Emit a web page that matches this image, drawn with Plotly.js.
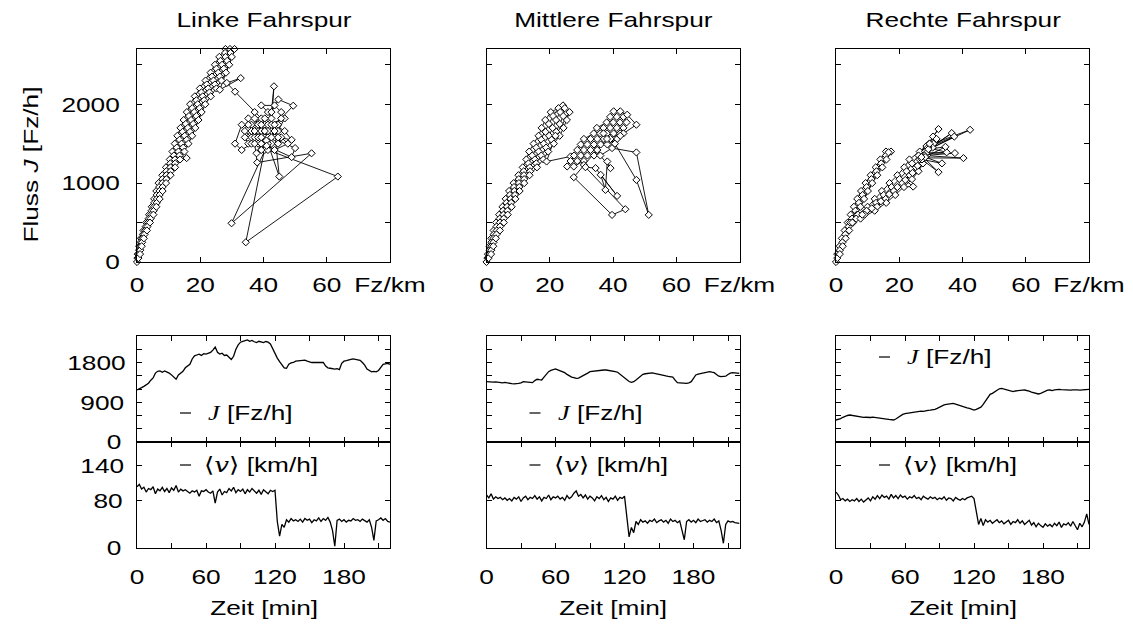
<!DOCTYPE html>
<html>
<head>
<meta charset="utf-8">
<script src="https://cdn.plot.ly/plotly-3.0.1.min.js"></script>
<style>
  html, body { margin: 0; padding: 0; background: #fff; }
  #chart { width: 1133px; height: 626px; }
</style>
</head>
<body>
<div id="chart"></div>
<script>
// Spur-Titel
const lanes = ['Linke Fahrspur', 'Mittlere Fahrspur', 'Rechte Fahrspur'];

// Fundamentaldiagramm: [Dichte Fz/km, Fluss Fz/h] in zeitlicher Reihenfolge
const fdLinks = [
  [0,0],[0.24,100],[0.7,200],[1.25,300],[2.06,400],[2.91,500],[3.82,600],[4.68,700],[5.44,800],[6.11,900],
  [6.83,1000],[8,1100],[9.16,1200],[10.38,1300],[11.21,1400],[11.94,1500],[12.76,1600],[13.76,1700],[14.76,1800],[15.76,1900],
  [16.81,2000],[18.28,2100],[19.89,2200],[21.68,2300],[23.27,2400],[24.65,2500],[26.02,2600],[27.96,2700],
  [27.85,2650],[26.39,2550],[25.13,2450],[23.71,2350],[22.07,2250],[20.37,2150],[18.77,2050],[17.47,1950],[16.43,1850],[15.43,1750],
  [14.43,1650],[13.48,1550],[12.59,1450],[11.67,1350],[10.54,1250],[9.26,1150],[8.03,1050],[7.01,950],[6.24,850],[5.45,750],
  [4.6,650],[3.69,550],[2.77,450],[1.9,350],[1.18,250],[0.66,150],[0.14,50],
  [0.6,100],[1.1,200],[1.7,300],[2.6,400],[3.5,500],[4.5,600],[5.4,700],[6.3,800],[7.1,900],[8,1000],
  [9.3,1100],[10.6,1200],[12,1300],[13.1,1400],[14.1,1500],[15.1,1600],[16.1,1700],[17.1,1800],[18.1,1900],[19.2,2000],
  [20.8,2100],[22.5,2200],[24.2,2300],[25.7,2400],[26.9,2500],[28,2600],[29.4,2700],
  [29.56,2650],[28.51,2550],[27.47,2450],[26.19,2350],[24.63,2250],[22.93,2150],[21.23,2050],[19.83,1950],[18.77,1850],[17.77,1750],
  [16.77,1650],[15.73,1550],[14.61,1450],[13.43,1350],[15.7,1317],[12.07,1250],[10.64,1150],[9.27,1050],[8.09,950],[7.16,850],
  [6.25,750],[5.3,650],[4.32,550],[3.33,450],[2.4,350],[1.62,250],[1.04,150],[0.46,50],
  [0.96,100],[1.5,200],[2.15,300],[3.14,400],[4.09,500],[5.18,600],[6.12,700],[7.16,800],[8.09,900],[9.17,1000],
  [10.6,1100],[12.04,1200],[13.62,1300],[14.99,1400],[16.26,1500],[17.44,1600],[18.44,1700],[19.44,1800],[20.44,1900],[21.59,2000],
  [23.32,2100],[25.11,2200],[26.72,2300],[28.13,2400],[29.15,2500],[29.98,2600],[30.84,2700],
  [26.2,2184],[32.8,2331],[28.4,2270],[31,2159],
  [37.2,1900],[39.3,1820],[36.2,1740],[38.3,1660],[40.4,1740],[42.5,1820],[41.4,1900],[39.3,1985],[43.5,1985],[45.6,1900],
  [44.6,1740],[42.5,1660],[40.4,1580],[38.3,1500],[36.2,1580],[34.1,1660],[35.2,1820],[37.2,1820],[39.3,1660],[41.4,1580],
  [43.5,1580],[44.6,1660],[46.7,1820],[41.4,1740],[38.3,1740],[36.2,1660],[34.1,1580],[35.2,1500],[37.2,1580],[39.3,1740],
  [40.4,1660],[42.5,1500],[44.6,1500],[45.6,1580],[47.7,1500],[43.5,1420],[40.4,1500],[37.2,1660],[35.2,1740],[33.1,1740],
  [31,1500],[33.1,1420],[36.2,1500],[38.3,1580],[40.4,1820],[42.5,1740],[43.3,2227],[42.5,1900],[44.7,2060],[49.4,1981],
  [45.6,1820],[43.5,1740],[46.7,1660],[48.9,1549],[44.6,1580],[41.4,1660],[39.3,1580],[37.2,1500],[38,1261],[55.2,1378],
  [29.9,491],[40.4,1420],[41.4,1500],[45,1083],[43.5,1660],[37.8,1378],[39.3,1500],[41.4,1420],[63.5,1083],[34.4,250],
  [40.9,1540],[42.5,1580],[50,1444],[48.9,1329],[41,1473],[39.3,1420],[40.4,1660]
];

const fdMitte = [
  [0,0],[0.46,100],[0.97,200],[1.53,300],[2.26,400],[3.04,500],[4,600],[5.06,700],[6.07,800],[7.14,900],
  [8.59,1000],[10.1,1100],[11.45,1200],[12.6,1300],[13.49,1400],[14.9,1500],[16.47,1600],[17.44,1700],[18.58,1800],[20.33,1900],
  [22.76,1950],[21.05,1850],[19.73,1750],[18.65,1650],[17.32,1550],[15.75,1450],[14.47,1350],[13.26,1250],[11.78,1150],[10.2,1050],
  [8.7,950],[7.4,850],[6.31,750],[5.23,650],[4.16,550],[3.2,450],[2.32,350],[1.57,250],[0.98,150],[0.29,50],
  [0.95,100],[1.55,200],[2.25,300],[3.25,400],[4.25,500],[5.35,600],[6.5,700],[7.6,800],[8.8,900],[10.25,1000],
  [11.85,1100],[13.7,1200],[15.3,1300],[16.5,1400],[18.1,1500],[19.8,1600],[20.9,1700],[22,1800],[23.3,1900],[24.2,1985],
  [24.74,1950],[24.25,1850],[23.17,1750],[22.05,1650],[20.58,1550],[18.85,1450],[17.33,1350],[15.74,1250],[13.78,1150],[11.9,1050],
  [10.36,950],[9,850],[7.79,750],[6.63,650],[5.44,550],[4.3,450],[3.18,350],[2.23,250],[1.52,150],[0.67,50],
  [1.45,100],[2.14,200],[2.97,300],[4.24,400],[5.47,500],[6.7,600],[7.94,700],[9.13,800],[10.47,900],[11.92,1000],
  [13.6,1100],[15.95,1200],[18,1300],[19.52,1400],[21.3,1500],[23.13,1600],[24.37,1700],[25.42,1800],[26.27,1900],
  [21.8,1600],[19,1274],
  [26.6,1338],[25.5,1211],[27.6,1211],[30.8,1280],[28.7,1280],[26.6,1280],[27.7,1350],[29.8,1350],[31.9,1350],[34,1350],
  [35,1420],[32.9,1420],[30.8,1420],[28.7,1420],[29.8,1490],[31.9,1490],[34,1490],[36.1,1490],[38.2,1490],
  [41.3,1560],[39.2,1560],[37.1,1560],[35,1560],[32.9,1560],[30.8,1560],[33.9,1630],[36,1630],[38.1,1630],[40.2,1630],
  [42.3,1630],[43.3,1700],[41.2,1700],[39.1,1700],[37,1700],[34.9,1700],[38,1770],[40.1,1770],[42.2,1770],[44.3,1770],
  [43.3,1840],[41.2,1840],[39.1,1840],[40.2,1910],[42.3,1910],[44.5,1867],[47.4,1740],[43.3,1630],[38.1,1560],[35,1420],
  [30.8,1230],[27.6,1075],[39.7,597],[43.9,669],[31.3,1202],[34.5,1190],[41.3,838],[36.1,1105],[37.6,914],[38.2,1274],
  [39.2,1190],[36,1350],[39.7,1444],[47.4,1389],[51.3,597],[47.4,1041],[40.6,1500],[42.3,1600],[37,1630]
];

const fdRechts = [
  [0,0],[0.4,100],[1.17,200],[1.85,300],[2.73,400],[3.71,500],[4.64,600],[5.66,700],[6.72,800],[7.92,900],
  [9.36,1000],[10.96,1100],[12.56,1200],[14.04,1300],[15.8,1400],
  [15.8,1350],[14.3,1250],[12.8,1150],[11.2,1050],[9.7,950],[8.4,850],[7.25,750],[6.15,650],[5.08,550],[4,450],
  [2.95,350],[2.05,250],[1.23,150],[0.4,50],
  [1.2,100],[2.13,200],[3.05,300],[4.17,400],[5.39,500],[6.56,600],[7.74,700],[8.88,800],[10.08,900],[11.44,1000],
  [13.04,1100],[14.64,1200],[15.96,1300],[17.4,1400],[16.6,1390],
  [4.49,500],[6.97,600],[9.99,700],[12.25,800],[14.5,900],[16.93,1000],[19.41,1100],[21.58,1200],[23.22,1300],[26.47,1400],
  [29.48,1500],
  [28.8,1450],[26.11,1350],[24.05,1250],[22.31,1150],[20.07,1050],[17.58,950],[15.1,850],[12.66,750],[9.69,650],[6.39,550],
  [5.18,500],[9.04,600],[12.98,700],[15.7,800],[18.29,900],[20.95,1000],[23.32,1100],[25.26,1200],[26.44,1300],[28.54,1400],
  [30.86,1500],
  [30.53,1450],[28.76,1350],[27.5,1250],[26.1,1150],[24.03,1050],[21.49,950],[18.73,850],[15.88,750],[12.22,650],[7.77,550],
  [8.3,600],[11.3,680],[14.2,770],[16.8,860],[19.4,950],[24.4,956],[21.9,1040],[24.2,1130],[25.8,1220],[27.3,1310],
  [28.3,1420],[29.2,1460],[30.7,1590],[32.4,1685],[28.6,1470],[42.4,1676],[28.8,1420],[36.6,1634],[28.2,1400],[37.4,1590],
  [29,1450],[35,1390],[28.5,1380],[37.6,1380],[28,1350],[40.3,1317],[27.8,1320],[32.4,1139],[27.2,1300],[33.5,1250],
  [28.2,1330],[34.6,1460],[29.2,1430],[31.8,1560],[29.6,1500],[27,1330]
];

// Zeitreihen (2-min-Mittel, Start t = 0 min)
const flussLinks = [
  1180,1200,1230,1260,1290,1330,1400,1450,1560,1600,
  1610,1580,1610,1590,1560,1520,1480,1420,1520,1570,
  1600,1680,1720,1760,1880,1950,1970,1990,1960,2000,
  1990,2010,2030,2080,2150,2030,1990,2010,1960,1970,
  1910,1870,1940,2100,2200,2260,2280,2290,2310,2280,
  2300,2270,2250,2280,2260,2250,2275,2260,2220,2110,
  2000,1900,1820,1740,1680,1670,1760,1790,1800,1830,
  1840,1845,1850,1855,1830,1810,1800,1805,1800,1810,
  1800,1800,1720,1680,1670,1660,1650,1660,1640,1780,
  1830,1840,1860,1870,1880,1870,1860,1850,1800,1740,
  1650,1610,1590,1600,1590,1620,1700,1760,1770,1780,
  1760
];
const vLinks = [
  104,108,100,103,95,101,99,104,92,100,
  97,103,96,101,94,102,98,106,95,100,
  97,99,96,93,97,95,98,88,97,96,
  99,95,93,97,76,95,100,90,96,94,
  101,97,103,94,99,96,100,92,99,95,
  101,96,93,98,91,99,95,92,98,96,
  98,45,20,40,35,48,44,50,46,48,
  45,49,44,50,47,49,43,48,46,51,
  45,50,47,52,44,30,3,47,49,45,
  48,44,47,46,50,47,48,45,49,47,
  44,48,35,13,46,48,51,47,50,45,
  44
];
const flussMitte = [
  1366,1360,1370,1355,1360,1350,1345,1340,1350,1335,
  1330,1320,1315,1312,1325,1340,1365,1360,1350,1345,
  1343,1390,1420,1410,1404,1470,1540,1592,1620,1640,
  1653,1635,1615,1600,1570,1530,1490,1470,1455,1441,
  1445,1470,1500,1517,1560,1592,1600,1610,1615,1620,
  1625,1630,1630,1625,1620,1610,1595,1580,1540,1500,
  1450,1404,1370,1350,1365,1404,1450,1500,1532,1545,
  1555,1570,1565,1555,1540,1525,1517,1505,1495,1485,
  1479,1470,1400,1344,1340,1335,1330,1328,1340,1366,
  1440,1517,1535,1545,1555,1570,1585,1592,1580,1570,
  1530,1490,1479,1479,1490,1530,1560,1570,1565,1560,
  1555
];
const vMitte = [
  90,85,92,83,87,84,86,82,85,81,
  84,80,86,83,87,79,85,88,82,86,
  84,89,83,87,80,86,84,90,82,87,
  85,88,83,86,81,89,84,87,93,97,
  88,91,85,90,83,88,85,80,87,84,
  89,82,86,79,85,83,88,81,86,84,
  88,50,19,35,26,45,40,48,44,46,
  42,47,45,49,43,46,48,44,47,42,
  49,45,47,43,46,30,14,45,48,44,
  47,43,49,45,46,48,44,47,45,49,
  43,46,30,8,40,46,44,45,43,42,
  42
];
const flussRechts = [
  498,510,530,560,585,600,611,600,590,580,
  575,565,558,560,550,555,565,558,560,555,
  545,530,520,510,500,498,520,560,600,625,
  640,650,660,655,670,680,687,700,695,710,
  715,720,724,740,760,790,820,838,850,860,
  870,875,860,840,820,800,790,775,760,735,
  724,740,762,790,850,930,1010,1080,1102,1140,
  1180,1205,1215,1200,1180,1160,1145,1140,1155,1165,
  1170,1175,1177,1170,1150,1130,1110,1095,1087,1100,
  1130,1160,1175,1177,1165,1180,1190,1192,1185,1180,
  1190,1185,1175,1180,1185,1182,1175,1180,1170,1185,
  1192
];
const vRechts = [
  95,90,82,84,80,83,79,82,80,84,
  79,83,78,81,85,80,87,83,89,84,
  90,86,88,83,91,85,89,84,90,86,
  88,83,87,85,89,84,86,82,88,85,
  83,87,84,86,82,85,83,87,81,85,
  84,80,86,83,81,84,82,85,86,88,
  84,58,40,50,38,48,44,47,42,45,
  48,43,46,41,44,47,40,45,43,48,
  42,46,40,44,47,39,43,36,42,38,
  35,41,37,40,36,42,38,44,35,41,
  39,43,37,45,38,31,42,36,44,58,
  40
];

// Achsenbeschriftungen
const dichteTicks = [0, 20, 40, 60, 80];
const dichteText = ['0', '20', '40', '60', 'Fz/km'];
const flussFdTicks = [0, 500, 1000, 1500, 2000, 2500];
const flussFdText = ['0', '', '1000', '', '2000', ''];
const zeitTicks = [0, 30, 60, 90, 120, 150, 180, 210];
const zeitText = ['0', '', '60', '', '120', '', '180', ''];
const flussTsTicks = [0, 300, 600, 900, 1200, 1500, 1800, 2100];
const flussTsText = ['0', '', '', '900', '', '', '1800', ''];
const vTicks = [0, 80, 140];
const vText = ['0', '80', '140'];

const fdSets = [fdLinks, fdMitte, fdRechts];
const flussSets = [flussLinks, flussMitte, flussRechts];
const vSets = [vLinks, vMitte, vRechts];

// Geometrie in Pixeln
const W = 1133, H = 626;
const px = x => x / W;
const py = y => 1 - y / H;
const colLeft = [137, 486.5, 836];
const colWidth = 253;
const FONT = 'Liberation Sans, Arial, Helvetica, sans-serif';
const FS = 21;          // Schriftgröße
const STRETCH = 1.25;   // horizontale Dehnung der Schrift
const Y_LABEL_GAP = 12; // Abstand der y-Beschriftung zur Achse
const tickFont = { family: FONT, size: FS, color: '#000' };

function axisBase(extra) {
  return Object.assign({
    showline: true, linecolor: '#000', linewidth: 1, mirror: 'ticks',
    ticks: 'inside', ticklen: 5, tickwidth: 1, tickcolor: '#000',
    showgrid: false, zeroline: false, fixedrange: true,
    tickfont: tickFont, tickmode: 'array'
  }, extra);
}

const data = [];
const layout = {
  width: W, height: H,
  margin: { l: 0, r: 0, t: 0, b: 0 },
  paper_bgcolor: '#fff', plot_bgcolor: '#fff',
  showlegend: false,
  font: { family: FONT, size: FS, color: '#000' },
  annotations: [], shapes: []
};

for (let i = 0; i < 3; i++) {
  const dom = [px(colLeft[i]), px(colLeft[i] + colWidth)];
  const a = i + 1, b = i + 4, c = i + 7;
  const first = i === 0;

  // Fundamentaldiagramm
  data.push({
    type: 'scatter', mode: 'lines+markers',
    x: fdSets[i].map(p => p[0]), y: fdSets[i].map(p => p[1]),
    xaxis: 'x' + a, yaxis: 'y' + a,
    line: { color: '#000', width: 0.9 },
    marker: { symbol: 'diamond', size: 5.5, color: '#fff', line: { color: '#000', width: 1 } },
    cliponaxis: false
  });
  layout['xaxis' + a] = axisBase({
    domain: dom, anchor: 'y' + a, range: [0, 80],
    tickvals: dichteTicks, ticktext: dichteText, ticklabelstandoff: 4
  });
  layout['yaxis' + a] = axisBase({
    domain: [py(262), py(49)], anchor: 'x' + a, range: [0, 2700],
    tickvals: flussFdTicks, ticktext: first ? flussFdText : flussFdTicks.map(() => ''),
    ticklabelstandoff: Y_LABEL_GAP
  });

  // Fluss über Zeit
  data.push({
    type: 'scatter', mode: 'lines', x0: 0, dx: 2, y: flussSets[i],
    xaxis: 'x' + b, yaxis: 'y' + b,
    line: { color: '#000', width: 1.3 }
  });
  layout['xaxis' + b] = axisBase({
    domain: dom, anchor: 'y' + b, range: [0, 220],
    tickvals: zeitTicks, ticktext: zeitTicks.map(() => '')
  });
  layout['yaxis' + b] = axisBase({
    domain: [py(442), py(336)], anchor: 'x' + b, range: [0, 2400],
    tickvals: flussTsTicks, ticktext: first ? flussTsText : flussTsTicks.map(() => ''),
    ticklabelstandoff: Y_LABEL_GAP
  });

  // Mittlere Geschwindigkeit über Zeit
  data.push({
    type: 'scatter', mode: 'lines', x0: 0, dx: 2, y: vSets[i],
    xaxis: 'x' + c, yaxis: 'y' + c,
    line: { color: '#000', width: 1.3 }
  });
  layout['xaxis' + c] = axisBase({
    domain: dom, anchor: 'y' + c, range: [0, 220],
    tickvals: zeitTicks, ticktext: zeitText, ticklabelstandoff: 10
  });
  layout['yaxis' + c] = axisBase({
    domain: [py(548), py(442)], anchor: 'x' + c, range: [0, 180],
    tickvals: vTicks, ticktext: first ? vText : vTicks.map(() => ''),
    ticklabelstandoff: Y_LABEL_GAP
  });

  const mid = colLeft[i] + colWidth / 2;
  // Spaltentitel
  layout.annotations.push({
    xref: 'paper', yref: 'paper', x: px(mid), y: py(20),
    text: lanes[i], showarrow: false, xanchor: 'center', yanchor: 'middle',
    font: { family: FONT, size: FS }
  });
  // Zeitachse
  layout.annotations.push({
    xref: 'paper', yref: 'paper', x: px(mid), y: py(607),
    text: 'Zeit [min]', showarrow: false, xanchor: 'center', yanchor: 'middle',
    font: { family: FONT, size: FS }
  });

  // Legenden in den Zeitreihen
  const lx = colLeft[i] + 43;
  const flowY = i === 2 ? 357 : 413;
  const speedY = 465;
  [[flowY, 26, '<span style="font-family:\'Liberation Serif\',serif"><i>J</i></span> [Fz/h]'],
   [speedY, 22, '<span style="font-family:\'DejaVu Serif\',serif">\u27E8<i>v</i>\u27E9</span> [km/h]']]
    .forEach(([yy, gap, txt]) => {
      layout.shapes.push({
        type: 'line', xref: 'paper', yref: 'paper',
        x0: px(lx), x1: px(lx + 11), y0: py(yy), y1: py(yy),
        line: { color: '#000', width: 1.2 }
      });
      layout.annotations.push({
        xref: 'paper', yref: 'paper', x: px(lx + gap), y: py(yy),
        text: txt, showarrow: false, xanchor: 'left', yanchor: 'middle',
        font: { family: FONT, size: FS }
      });
    });
}

// y-Titel der oberen Reihe
layout.annotations.push({
  xref: 'paper', yref: 'paper', x: px(30), y: py(165),
  text: 'Fluss <i>J</i> [Fz/h]', showarrow: false, textangle: -90,
  xanchor: 'center', yanchor: 'middle', font: { family: FONT, size: FS }
});

// Schrift horizontal dehnen; der Ankerpunkt jeder Beschriftung bleibt stehen
function widenText(gd) {
  const leftAnchored = new Set();
  layout.annotations.forEach((an, k) => { if (an.xanchor === 'left') leftAnchored.add(String(k)); });
  gd.querySelectorAll('svg text').forEach(t => {
    const bb = t.getBBox();
    if (!bb.width) return;
    let ax = bb.x + bb.width / 2;
    const ann = t.closest('.annotation');
    if (t.closest('.ytick')) ax = bb.x + bb.width;
    else if (ann && leftAnchored.has(ann.getAttribute('data-index'))) ax = bb.x;
    const prev = t.getAttribute('transform') || '';
    t.setAttribute('transform',
      prev + ' translate(' + ax + ',0) scale(' + STRETCH + ',1) translate(' + (-ax) + ',0)');
  });
}

Plotly.newPlot('chart', data, layout, { staticPlot: true, displayModeBar: false })
  .then(widenText);
</script>
</body>
</html>
